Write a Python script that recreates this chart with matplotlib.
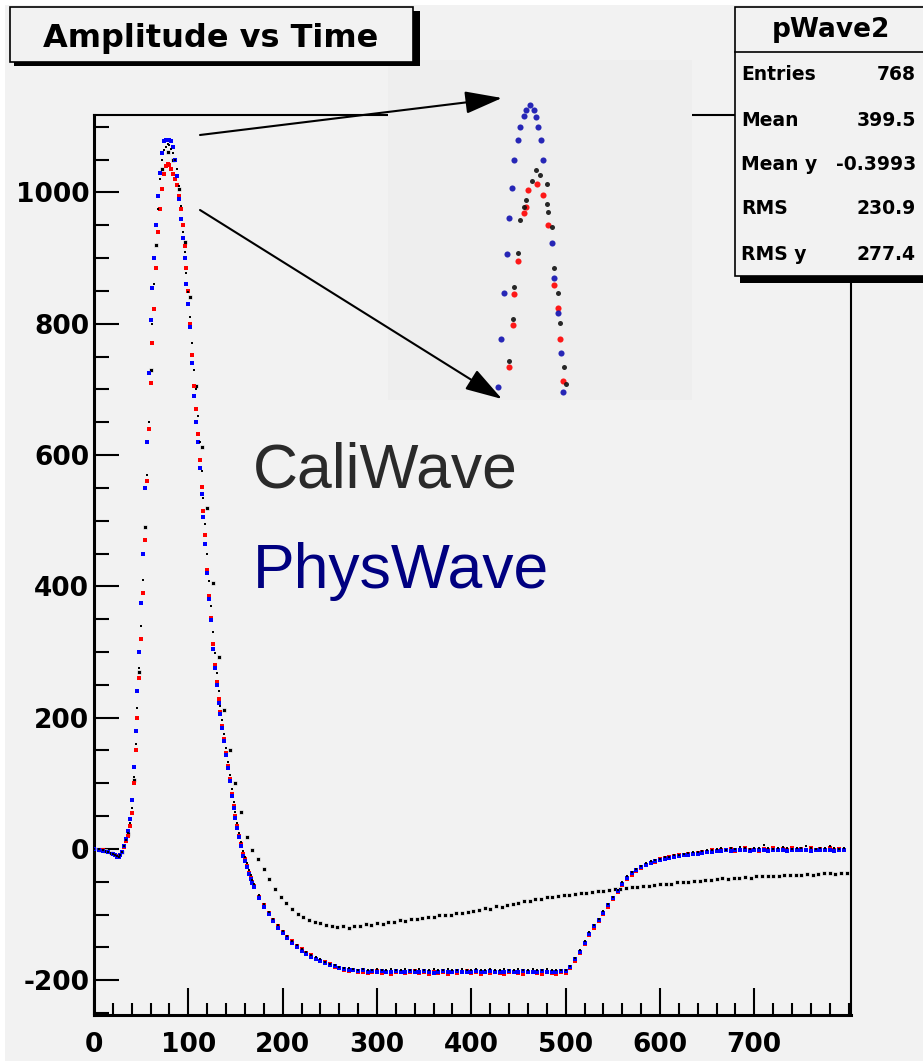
import numpy as np
import matplotlib
matplotlib.use("Agg")
import matplotlib.pyplot as plt
from matplotlib.patches import Rectangle, FancyArrowPatch
from matplotlib.ticker import MultipleLocator

plt.rcParams['font.family'] = ['DejaVu Sans']
plt.rcParams['axes.unicode_minus'] = False

# ---------------------------------------------------------------- data
# time axis of the waves: coarse at the start, fine over the peak, coarse on the tail
t_grid = np.concatenate([np.arange(0, 20, 5), np.arange(20, 170, 2), np.arange(170, 800, 5)])

phys_wave = [
    0, -1, -3, -5,                                          # t = 0..15
    -8, -10, -12, -13, -10, -4, 5, 15, 28, 45,              # t = 20..38
    75, 125, 180, 240, 300, 375, 450, 550, 620, 725,        # t = 40..58
    805, 855, 900, 950, 995, 1030, 1060, 1078, 1080, 1080,  # t = 60..78
    1080, 1079, 1070, 1050, 1025, 990, 960, 930, 900, 860,  # t = 80..98
    830, 795, 740, 690, 650, 620, 580, 540, 505, 465,       # t = 100..118
    420, 380, 348, 305, 275, 250, 223, 205, 184, 165,       # t = 120..138
    143, 123, 103, 80, 62, 47, 32, 18, 5, -11,              # t = 140..158
    -18, -28, -38, -46, -52,                                # t = 160..168
    -58, -75, -88, -99, -110, -120, -128, -136, -143, -150,        # t = 170..215
    -156, -160, -164, -168, -171, -174, -177, -179, -181, -183,    # t = 220..265
    -184, -185, -186, -185, -187, -186, -187, -186, -188, -187,    # t = 270..315
    -186, -188, -187, -186, -188, -187, -186, -187, -189, -187,    # t = 320..365
    -186, -187, -188, -186, -187, -188, -187, -186, -188, -187,    # t = 370..415
    -186, -187, -188, -187, -186, -188, -187, -186, -187, -188,    # t = 420..465
    -187, -186, -187, -188, -187, -186, -186, -180, -168, -157,    # t = 470..515
    -143, -129, -118, -108, -97, -86, -75, -64, -53, -44,          # t = 520..565
    -37, -32, -28, -24, -21, -19, -17, -15, -14, -12,              # t = 570..615
    -11, -10, -9, -8, -7, -6, -5, -4, -3, -3,                      # t = 620..665
    -2, -3, -2, -1, -2, -3, -2, -1, -2, -3,                        # t = 670..715
    -2, -1, -2, -3, -1, -2, -2, -1, -3, -2,                        # t = 720..765
    -1, -2, -2, -3, -1, -2,                                        # t = 770..795
]

red_wave = [
    0, -1, -2, -4,
    -7, -9, -11, -12, -10, -5, 3, 12, 20, 35,
    55, 100, 150, 200, 260, 320, 390, 470, 560, 640,
    710, 770, 822, 885, 940, 975, 1005, 1028, 1040, 1044,
    1042, 1036, 1028, 1020, 1012, 995, 975, 950, 918, 885,
    850, 800, 752, 705, 670, 632, 592, 552, 515, 478,
    425, 385, 352, 312, 280, 254, 228, 208, 188, 168,
    146, 126, 106, 84, 66, 50, 35, 20, 7, -8,
    -16, -26, -36, -44, -50,
    -56, -73, -86, -98, -108, -118, -127, -134, -141, -148,
    -153, -158, -162, -167, -170, -173, -176, -180, -182, -184,
    -186, -184, -188, -187, -189, -188, -186, -189, -187, -190,
    -188, -187, -189, -188, -186, -189, -188, -190, -187, -189,
    -188, -190, -187, -189, -188, -186, -189, -188, -190, -188,
    -189, -187, -189, -190, -188, -187, -189, -190, -188, -187,
    -189, -190, -188, -189, -190, -188, -189, -182, -170, -158,
    -145, -131, -120, -110, -99, -88, -77, -66, -55, -46,
    -39, -33, -29, -25, -22, -20, -16, -14, -13, -11,
    -10, -9, -7, -8, -6, -5, -4, -2, -3, -1,
    -2, 0, -3, -1, 1, -2, -1, -3, 0, -2,
    1, -2, 0, -1, 2, -1, 0, -2, 1, -1,
    0, -2, 1, -1, 0, -1,
]

cali_fast = [
    0, 0, -2, -4,
    -7, -10, -11, -12, -9, -4, 4, 14, 24, 40,
    62, 110, 160, 215, 275, 340, 410, 490, 570, 650,
    730, 800, 860, 920, 975, 1020, 1050, 1064, 1070, 1074,
    1072, 1066, 1060, 1050, 1035, 1010, 980, 940, 910, 878,
    848, 810, 770, 730, 700, 660, 620, 575, 535, 495,
    450, 408, 370, 330, 298, 268, 240, 218, 196, 175,
    153, 132, 112, 92, 72, 56, 40, 25, 11, -3,
    -12, -22, -32, -40, -47,
    -54, -70, -84, -96, -106, -116, -125, -132, -140, -146,
    -152, -157, -161, -165, -168, -172, -175, -177, -180, -181,
    -182, -183, -184, -183, -185, -184, -183, -185, -184, -183,
    -185, -184, -183, -185, -184, -183, -185, -184, -183, -185,
    -184, -183, -185, -184, -183, -185, -184, -183, -185, -184,
    -183, -185, -184, -183, -185, -184, -183, -185, -184, -183,
    -185, -184, -183, -185, -184, -184, -184, -178, -166, -154,
    -141, -127, -116, -106, -95, -84, -73, -62, -51, -42,
    -35, -30, -26, -22, -19, -17, -15, -13, -12, -10,
    -9, -8, -6, -5, -5, -3, -2, -1, 0, 1,
    -1, 2, 0, 3, 1, 0, 2, 1, 6, 2,
    0, 1, 3, 1, 0, 2, 1, 4, 1, 0,
    2, 1, 5, 1, 0, 2,
]

# slow calibration wave, sampled every 6 ticks
cali_t = np.arange(0, 800, 6)
cali_slow = [
    0, -1, -3, -6, -11, -5, 22, 105, 270, 490,
    730, 920, 1035, 1062, 1050, 1005, 925, 840, 705, 612,
    520, 405, 292, 212, 150, 100, 56, 18, -2, -16,
    -30, -46, -61, -73, -83, -92, -99, -104, -108, -111,
    -113, -116, -117, -119, -118, -120, -117, -118, -115, -116,
    -113, -114, -111, -112, -109, -110, -107, -106, -105, -103,
    -104, -101, -100, -101, -98, -97, -96, -94, -93, -90,
    -91, -87, -88, -85, -84, -83, -80, -79, -77, -76,
    -74, -73, -72, -70, -70, -68, -67, -67, -65, -64,
    -64, -62, -61, -61, -59, -58, -58, -56, -56, -55,
    -54, -53, -53, -51, -51, -50, -49, -49, -47, -48,
    -46, -45, -46, -44, -44, -43, -44, -42, -42, -41,
    -41, -42, -40, -40, -39, -40, -38, -39, -38, -37,
    -37, -38, -36, -36,
]

# magnified peak shown in the inset
zoom_phys_t = [55.3, 57.5, 59.8, 62.0, 63.5, 65.7, 67.2, 70.1, 71.6, 74.6, 76.0,
               79.0, 82.0, 83.4, 84.9, 87.1, 88.6, 95.3, 97.0, 100.0, 101.7, 103.7]
zoom_phys_v = [700, 765, 827, 879, 928, 968, 1006, 1033, 1050, 1066, 1073,
               1080, 1073, 1064, 1050, 1033, 1006, 894, 847, 800, 746, 693]
zoom_red_t = [63.5, 66.2, 67.4, 69.9, 74.8, 75.8, 77.8, 84.0, 88.4,
              92.6, 96.8, 100.0, 101.2, 103.2]
zoom_red_v = [726, 783, 825, 869, 934, 943, 965, 974, 959,
              918, 837, 806, 764, 707]
zoom_cali_t = [63.5, 66.2, 67.4, 69.9, 71.6, 74.8, 75.8, 80.3, 83.4, 86.4,
               91.4, 91.4, 92.6, 95.5, 96.8, 100.0, 101.2, 104.2, 105.7]
zoom_cali_v = [734, 792, 835, 881, 925, 943, 952, 977, 992, 986,
               974, 947, 936, 916, 860, 826, 786, 727, 703]

x_ticks = [0, 100, 200, 300, 400, 500, 600, 700]
y_ticks = [-200, 0, 200, 400, 600, 800, 1000]

stats_names = ['Entries', 'Mean', 'Mean y', 'RMS', 'RMS y']
stats_values = ['768', '399.5', '-0.3993', '230.9', '277.4']

# ---------------------------------------------------------------- layout helpers
W, H = 923, 1061


def fx(px):
    return px / W


def fy(py):
    return 1 - py / H


fig = plt.figure(figsize=(W / 100, H / 100), dpi=100)
fig.patch.set_facecolor('white')
fig.add_artist(Rectangle((fx(5), 0), 1 - fx(5), fy(5), transform=fig.transFigure,
                         facecolor='#f2f2f2', edgecolor='none', zorder=-5))

# ---------------------------------------------------------------- main frame
ax = fig.add_axes([fx(94), fy(1015), fx(851) - fx(94), fy(115) - fy(1015)])
ax.set_facecolor('#f2f2f2')

ax.plot(cali_t, cali_slow, ls='none', marker='s', ms=2.2, mfc='black',
        mec='white', mew=0.5, zorder=2)
ax.plot(t_grid, red_wave, ls='none', marker='s', ms=2.8, color='red', mew=0, zorder=3)
ax.plot(t_grid, phys_wave, ls='none', marker='s', ms=2.8, color='blue', mew=0, zorder=4)
ax.plot(t_grid, cali_fast, ls='none', marker='s', ms=2.0, color='black', mew=0, zorder=5)

ax.set_xlim(0, 802.5)
ax.set_ylim(-253, 1118)
ax.set_xticks(x_ticks)
ax.set_yticks(y_ticks)
ax.xaxis.set_minor_locator(MultipleLocator(20))
ax.yaxis.set_minor_locator(MultipleLocator(50))
ax.tick_params(axis='x', which='major', direction='in', length=19.5, width=1.5,
               labelsize=19, pad=12, top=False)
ax.tick_params(axis='x', which='minor', direction='in', length=8.5, width=1.5, top=False)
ax.tick_params(axis='y', which='major', direction='in', length=18, width=1.5,
               labelsize=19, pad=3.5, right=False)
ax.tick_params(axis='y', which='minor', direction='in', length=11, width=1.5, right=False)
for lab in ax.get_xticklabels() + ax.get_yticklabels():
    lab.set_fontweight('bold')
for side in ['left', 'bottom']:
    ax.spines[side].set_linewidth(2.2)
for side in ['top', 'right']:
    ax.spines[side].set_linewidth(1.5)

# ---------------------------------------------------------------- inset of the peak
axin = fig.add_axes([fx(388), fy(400), fx(692) - fx(388), fy(60) - fy(400)], zorder=3)
axin.set_facecolor('#eeeeee')
axin.plot(zoom_red_t, zoom_red_v, ls='none', marker='o', ms=4.4, color='red', mew=0, alpha=0.9)
axin.plot(zoom_phys_t, zoom_phys_v, ls='none', marker='o', ms=4.4, color='#1010b0', mew=0, alpha=0.9)
axin.plot(zoom_cali_t, zoom_cali_v, ls='none', marker='o', ms=3.6, color='#111111', mew=0, alpha=0.9)
axin.set_xlim(-26, 199)
axin.set_ylim(682, 1141)
axin.set_xticks([])
axin.set_yticks([])
for s in axin.spines.values():
    s.set_visible(False)

for start, end in [((200, 135), (502, 98)), ((200, 210), (502, 399))]:
    fig.add_artist(FancyArrowPatch((fx(start[0]), fy(start[1])), (fx(end[0]), fy(end[1])),
                                   transform=fig.transFigure,
                                   arrowstyle='-|>,head_length=23,head_width=7',
                                   mutation_scale=1, lw=1.5, color='black',
                                   shrinkA=0, shrinkB=0, zorder=6))

fig.text(fx(253), fy(488), 'CaliWave', family='Liberation Sans', fontsize=45,
         color='#2a2a2a', va='baseline', ha='left')
fig.text(fx(253), fy(588), 'PhysWave', family='Liberation Sans', fontsize=45,
         color='#000080', va='baseline', ha='left')

# ---------------------------------------------------------------- title box
fig.add_artist(Rectangle((fx(14), fy(66)), fx(420) - fx(14), fy(11) - fy(66),
                         transform=fig.transFigure, facecolor='black',
                         edgecolor='none', zorder=6))
fig.add_artist(Rectangle((fx(10), fy(62)), fx(413) - fx(10), fy(7) - fy(62),
                         transform=fig.transFigure, facecolor='#f2f2f2',
                         edgecolor='black', lw=1.2, zorder=7))
fig.text(fx(211), fy(47), 'Amplitude vs Time', fontsize=23, fontweight='bold',
         ha='center', va='baseline', zorder=8)

# ---------------------------------------------------------------- stats box
fig.add_artist(Rectangle((fx(740), fy(283)), 1 - fx(740), fy(12) - fy(283),
                         transform=fig.transFigure, facecolor='black',
                         edgecolor='none', zorder=6))
fig.add_artist(Rectangle((fx(735), fy(276)), fx(925) - fx(735), fy(7) - fy(276),
                         transform=fig.transFigure, facecolor='#f2f2f2',
                         edgecolor='black', lw=1.2, zorder=7))
fig.add_artist(plt.Line2D([fx(735), 1], [fy(52), fy(52)], transform=fig.transFigure,
                          color='black', lw=1.2, zorder=8))
fig.text(fx(831), fy(30), 'pWave2', fontsize=19, fontweight='bold',
         ha='center', va='center', zorder=9)
row_y = [75, 120, 164, 209, 254]
for name, val, ry in zip(stats_names, stats_values, row_y):
    fig.text(fx(741), fy(ry), name, fontsize=13.5, fontweight='bold',
             ha='left', va='center', zorder=9)
    fig.text(fx(916), fy(ry), val, fontsize=13.5, fontweight='bold',
             ha='right', va='center', zorder=9)

fig.savefig('out.png', dpi=100, facecolor=fig.get_facecolor())
